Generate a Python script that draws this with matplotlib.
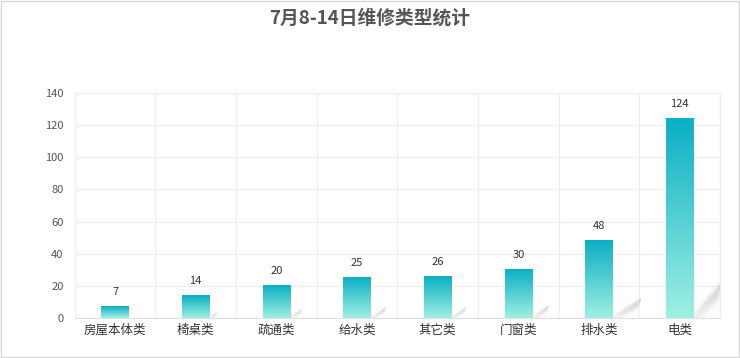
import matplotlib
matplotlib.use("Agg")
import matplotlib.pyplot as plt
import numpy as np
from matplotlib.patches import Rectangle
from matplotlib.colors import LinearSegmentedColormap

plt.rcParams['font.family'] = ['Noto Sans CJK SC', 'DejaVu Sans']

title = "7月8-14日维修类型统计"
categories = ["房屋本体类", "椅桌类", "疏通类", "给水类", "其它类", "门窗类", "排水类", "电类"]
values = [7, 14, 20, 25, 26, 30, 48, 124]
yticks = [0, 20, 40, 60, 80, 100, 120, 140]

fig = plt.figure(figsize=(7.4, 3.58), dpi=100)
ax = fig.add_axes([0.101, 0.112, 0.872, 0.628])

x = np.arange(len(categories))
bars = ax.bar(x, values, width=0.34, color='none', edgecolor='none', zorder=3)

cmap = LinearSegmentedColormap.from_list("g", ["#9ff0e2", "#0aafc4"])
grad = np.linspace(0, 1, 256).reshape(-1, 1)

# soft shadow image (RGBA)
n = 80
u = np.linspace(0, 1, n)[None, :]
v = np.linspace(0, 1, n)[:, None]
dist = v - u * 0.85
alpha = np.exp(-(dist / 0.25) ** 2) * (0.25 + 0.75 * u) * (1 - np.clip((u - 0.85) / 0.15, 0, 1))
alpha = np.where(dist > 0, np.exp(-(dist / 0.15) ** 2) * (0.25 + 0.75 * u), alpha)
alpha = alpha * 0.4
shadow = np.zeros((n, n, 4))
shadow[..., :3] = 0.55
shadow[..., 3] = alpha

for b, v_ in zip(bars, values):
    x0, w, h = b.get_x(), b.get_width(), b.get_height()
    ax.imshow(grad, extent=[x0, x0 + w, 0, h], origin='lower', cmap=cmap,
              aspect='auto', zorder=3)
    xr = x0 + w
    sh = min(0.25 * h, 22)
    sw = min(0.007 * h, 0.35)
    if h >= 10:
        ax.imshow(shadow, extent=[xr, xr + sw, 0, sh], origin='lower',
                  aspect='auto', zorder=2, interpolation='bilinear')
    ax.text(x0 + w / 2, h + 6, str(v_), ha='center', va='bottom',
            fontsize=8, color='#333333', zorder=4)

ax.set_xlim(-0.5, len(categories) - 0.5)
ax.set_ylim(0, 140)
ax.set_yticks(yticks)
ax.set_xticks(x)
ax.set_xticklabels(categories, fontsize=9, color='#333333')
ax.tick_params(axis='y', labelsize=8, colors='#555555', length=0, pad=8)
ax.tick_params(axis='x', length=0, pad=4)
ax.set_xticks(np.arange(-0.5, len(categories), 1), minor=True)
ax.grid(False)
ax.grid(True, axis='y', which='major', color='#eeeeee', linewidth=0.9, zorder=0)
ax.grid(True, axis='x', which='minor', color='#eeeeee', linewidth=0.9, zorder=0)
ax.tick_params(axis='x', which='minor', length=0)
for s in ax.spines.values():
    s.set_color('#eeeeee')
    s.set_linewidth(0.9)
ax.spines['bottom'].set_color('#e0e0e0')

fig.text(0.5, 0.95, title, ha='center', va='center', fontsize=13.5, fontweight='bold',
         color='#555555')

border = Rectangle((0.001, 0.002), 0.997, 0.995, transform=fig.transFigure,
                   fill=False, edgecolor='#d8d8d8', linewidth=1)
fig.patches.append(border)

fig.savefig("out.png", dpi=100)
